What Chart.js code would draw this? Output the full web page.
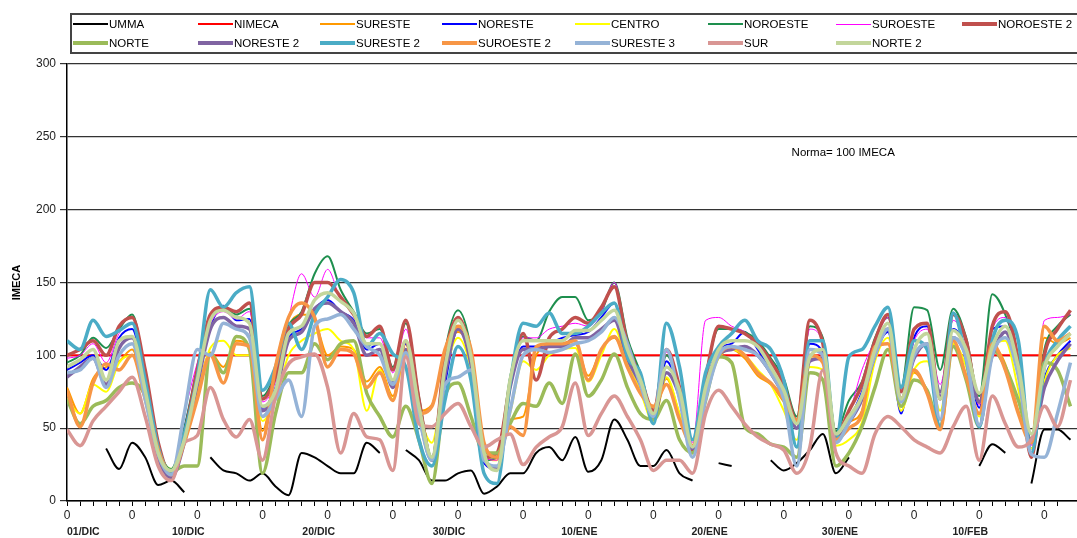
<!DOCTYPE html>
<html>
<head>
<meta charset="utf-8">
<script src="https://cdn.jsdelivr.net/npm/chart.js@4.4.0/dist/chart.umd.min.js"></script>
<style>
  body { margin: 0; background: #fff; overflow: hidden; font-family: "Liberation Sans", Arial, sans-serif; }
  #wrap { position: relative; width: 1077px; height: 538px; overflow: hidden; }
  #legend { position: absolute; left: 70px; top: 13px; width: 1030px; height: 41px; border: 2px solid #444; box-sizing: border-box; }
  .item { position: absolute; height: 14px; display: flex; align-items: center; font-size: 11.5px; color: #000; white-space: nowrap; }
  .item i { display: inline-block; width: 35px; margin-right: 1px; }
</style>
</head>
<body>
<div id="wrap">
  <canvas id="myChart" width="1077" height="538"></canvas>
  <div id="legend"></div>
</div>
<script>
// tick labels
const dateLabels = ["01/DIC", "10/DIC", "20/DIC", "30/DIC", "10/ENE", "20/ENE", "30/ENE", "10/FEB"];

// one value per day
const umma = [null,null,null,36,22,40,30,11,14,6,
  null,30,21,19,14,19,10,4,33,30,
  24,19,19,40,33,null,35,28,14,14,
  19,21,5,10,19,19,33,37,28,44,
  20,28,56,42,24,24,35,19,14,null,
  26,24,null,null,28,21,26,35,46,19,
  30,null,null,null,null,null,null,null,null,null,
  24,39,33,null,12,49,49,42];

const nimeca = [100,100,100,100,100,100,100,100,100,100,
  100,100,100,100,100,100,100,100,100,100,
  100,100,100,100,100,100,100,100,100,100,
  100,100,100,100,100,100,100,100,100,100,
  100,100,100,100,100,100,100,100,100,100,
  100,100,100,100,100,100,100,100,100,100,
  100,100,100,100,100,100,100,100,100,100,
  100,100,100,100,100,100,100,100];

const sureste = [78,60,84,92,96,104,72,34,20,42,
  74,102,92,110,106,48,90,120,128,124,
  100,106,104,82,92,72,108,62,66,102,
  116,100,36,30,56,58,100,106,106,108,
  86,104,112,94,76,64,84,60,38,78,
  102,104,98,86,80,68,56,98,96,44,
  54,62,104,108,70,88,76,52,108,86,
  60,106,94,62,40,112,108,112];

const noreste = [90,95,100,90,112,118,80,34,18,50,
  88,120,134,124,125,64,78,112,118,132,
  138,130,124,104,108,82,108,62,28,80,
  118,96,26,22,78,106,106,108,112,114,
  116,126,136,100,80,58,96,74,36,80,
  104,108,116,104,90,74,50,108,102,44,
  56,75,102,116,60,112,120,72,118,104,
  64,118,120,90,36,84,100,110];

const centro = [70,60,80,75,95,100,70,34,22,40,
  72,105,110,100,100,55,70,100,110,115,
  118,110,104,62,90,70,100,60,40,88,
  112,90,30,28,60,96,90,100,104,105,
  82,100,118,95,75,54,85,60,36,72,
  98,104,100,90,80,62,42,92,90,38,
  42,54,96,112,62,90,96,62,108,92,
  58,104,110,76,36,82,100,105];

const noroeste = [95,100,112,105,118,128,88,38,22,50,
  92,125,132,128,132,72,88,120,130,156,
  168,145,130,115,118,92,122,72,30,102,
  131,104,28,30,85,113,110,130,140,140,
  124,130,150,112,88,60,100,78,38,86,
  118,118,116,110,98,84,58,120,112,48,
  69,82,112,126,78,133,131,90,132,112,
  72,142,128,98,40,104,120,128];

const suroeste = [98,100,108,95,115,122,86,38,20,60,
  95,122,130,125,130,68,82,125,156,140,
  159,138,128,112,112,88,118,68,30,100,
  125,100,30,28,84,112,112,118,120,122,
  120,130,150,108,86,60,102,80,40,124,
  126,120,116,106,94,80,55,118,108,46,
  60,90,110,126,76,110,118,80,124,108,
  66,118,126,94,38,124,126,128];

const noroeste2 = [100,104,110,100,120,126,90,40,18,45,
  90,128,133,130,136,70,85,118,128,150,
  150,140,128,113,120,90,124,70,28,99,
  126,100,30,33,80,115,83,112,118,126,
  122,133,147,108,85,62,104,78,35,84,
  120,118,115,108,96,80,55,124,108,45,
  62,80,110,128,75,118,122,70,128,110,
  68,120,130,96,30,100,118,131];

const norte = [70,53,65,69,78,81,72,35,20,24,
  24,101,88,113,104,19,60,88,88,108,
  97,108,110,74,58,44,65,42,12,72,
  81,58,33,33,53,67,65,81,67,101,
  72,83,101,78,60,56,69,42,33,69,
  99,95,51,46,39,37,30,88,83,24,
  33,51,78,104,65,83,76,51,106,83,
  51,104,92,69,42,95,90,65];

const noreste2 = [85,92,98,80,105,112,74,30,16,40,
  80,118,126,120,118,62,74,110,116,132,
  136,130,122,100,104,78,104,60,28,86,
  118,94,30,22,78,104,104,106,106,112,
  112,118,124,98,80,58,88,72,36,76,
  100,104,106,100,88,72,50,96,98,44,
  54,70,100,118,70,98,108,75,112,100,
  68,100,116,88,40,78,96,108];

const sureste2 = [110,104,124,113,117,122,83,37,19,46,
  85,145,133,143,147,76,92,122,104,128,
  140,152,143,106,115,101,92,42,24,69,
  106,83,19,12,81,122,120,129,115,115,
  120,129,136,99,88,53,122,92,42,88,
  106,115,124,110,104,83,37,110,110,42,
  99,104,120,133,78,110,104,51,129,97,
  51,110,124,110,33,92,110,120];

const suroeste2 = [76,51,81,94,90,100,70,35,18,40,
  70,100,81,108,106,42,92,126,136,126,
  92,104,101,78,88,69,110,60,65,104,
  120,104,40,30,51,45,106,108,108,110,
  83,104,113,92,74,65,80,56,38,75,
  100,106,100,88,81,70,55,100,95,42,
  50,60,106,108,70,90,74,49,110,85,
  60,108,90,60,40,120,110,115];

const sureste3 = [88,90,98,78,100,108,70,32,18,60,
  104,100,122,118,112,58,70,83,58,120,
  125,128,118,106,100,80,102,58,28,80,
  85,90,28,24,62,100,104,102,104,108,
  110,116,126,108,80,58,104,70,30,70,
  100,106,104,100,88,70,24,104,100,40,
  54,72,100,118,68,100,108,56,112,98,
  52,100,112,86,32,30,60,95];

const sur = [49,38,55,65,75,85,58,24,14,40,
  45,78,56,44,56,28,72,94,99,101,
  78,33,60,44,42,21,99,53,51,60,
  67,51,37,42,46,25,37,44,51,81,
  45,60,72,58,42,21,28,28,19,60,
  76,65,53,44,39,35,19,37,90,33,
  24,19,46,58,51,42,37,33,51,65,
  28,72,53,37,42,65,51,83];

const norte2 = [92,97,104,83,110,113,76,33,21,42,
  83,124,131,126,122,65,76,115,120,138,
  143,137,129,108,108,83,110,65,30,92,
  124,99,33,21,83,110,110,110,110,117,
  117,124,131,104,83,60,92,76,37,78,
  104,110,110,106,92,76,53,99,104,46,
  58,72,104,122,70,104,115,70,117,104,
  74,106,120,92,46,92,106,115];

const series = [
  { label: "UMMA", values: umma, color: "#000000", width: 2 },
  { label: "NIMECA", values: nimeca, color: "#FF0000", width: 2 },
  { label: "SURESTE", values: sureste, color: "#FF9900", width: 2 },
  { label: "NORESTE", values: noreste, color: "#0000FF", width: 2 },
  { label: "CENTRO", values: centro, color: "#FFFF00", width: 2 },
  { label: "NOROESTE", values: noroeste, color: "#1E8F4E", width: 2 },
  { label: "SUROESTE", values: suroeste, color: "#FF00FF", width: 1 },
  { label: "NOROESTE 2", values: noroeste2, color: "#C0504D", width: 3.5 },
  { label: "NORTE", values: norte, color: "#9BBB59", width: 3.5 },
  { label: "NORESTE 2", values: noreste2, color: "#8064A2", width: 3.5 },
  { label: "SURESTE 2", values: sureste2, color: "#4BACC6", width: 3.5 },
  { label: "SUROESTE 2", values: suroeste2, color: "#F79646", width: 3.5 },
  { label: "SURESTE 3", values: sureste3, color: "#95B3D7", width: 3.5 },
  { label: "SUR", values: sur, color: "#D99694", width: 3.5 },
  { label: "NORTE 2", values: norte2, color: "#C3D69B", width: 3.5 },
];

const legendCols = [1, 126, 248, 370, 503, 636, 764, 890];

// html legend, two rows of boxes like the original
const legendEl = document.getElementById("legend");
series.forEach((s, i) => {
  const row = i < 8 ? 0 : 1;
  const item = document.createElement("div");
  item.className = "item";
  item.style.left = legendCols[i % 8] + "px";
  item.style.top = (row === 0 ? 2 : 21) + "px";
  const sw = document.createElement("i");
  sw.style.height = Math.max(1, Math.round(s.width)) + "px";
  sw.style.background = s.color;
  item.appendChild(sw);
  item.appendChild(document.createTextNode(s.label));
  legendEl.appendChild(item);
});

const extraText = {
  id: "extraText",
  afterDraw(chart) {
    const { ctx, scales } = chart;
    const x = scales.x, y = scales.y;
    ctx.save();
    // norm note
    ctx.fillStyle = "#000";
    ctx.font = "11.5px 'Liberation Sans', Arial, sans-serif";
    ctx.textAlign = "left";
    ctx.textBaseline = "middle";
    ctx.fillText("Norma= 100 IMECA", x.getPixelForValue(55.6), y.getPixelForValue(239));
    // date row under the axis
    ctx.font = "bold 10.5px 'Liberation Sans', Arial, sans-serif";
    ctx.fillStyle = "#222";
    ctx.textBaseline = "middle";
    dateLabels.forEach((d, i) => {
      const px = x.getPixelForValue(i * 10);
      if (i === 0) {
        ctx.textAlign = "left";
        ctx.fillText(d, px, 532);
      } else {
        ctx.textAlign = "center";
        ctx.fillText(d, px - 9, 532);
      }
    });
    ctx.restore();
  },
};

let myChart = document.getElementById("myChart").getContext("2d");

let lineChart = new Chart(myChart, {
  type: "line",
  data: {
    datasets: series.map((s, i) => ({
      label: s.label,
      data: s.values.map((v, d) => ({ x: d, y: v })),
      borderColor: s.color,
      backgroundColor: s.color,
      borderWidth: s.width,
      pointRadius: 0,
      cubicInterpolationMode: "monotone",
      spanGaps: false,
      order: series.length - i,
    })),
  },
  options: {
    responsive: false,
    animation: false,
    layout: { padding: { top: 64, left: 0, right: 0, bottom: 0 } },
    plugins: { legend: { display: false }, tooltip: { enabled: false } },
    scales: {
      x: {
        type: "linear",
        min: 0,
        max: 77.5,
        afterBuildTicks: (s) => {
          s.ticks = s.ticks.filter((t) => Number.isInteger(t.value));
        },
        afterFit: (s) => {
          s.height = 37;
        },
        ticks: {
          stepSize: 1,
          autoSkip: false,
          maxRotation: 0,
          padding: 2,
          color: "#222",
          font: { size: 12, family: "'Liberation Sans', Arial, sans-serif" },
          callback: (v) => (v % 5 === 0 ? "0" : ""),
        },
        grid: { drawOnChartArea: false, drawTicks: true, tickLength: 5, color: "#000" },
        border: { color: "#000", width: 1.5 },
      },
      y: {
        min: 0,
        max: 300,
        afterFit: (s) => {
          s.width = 67;
        },
        ticks: {
          stepSize: 50,
          padding: 4,
          color: "#222",
          font: { size: 12, family: "'Liberation Sans', Arial, sans-serif" },
        },
        grid: { color: "#333", lineWidth: 1.2, tickLength: 7 },
        border: { color: "#000", width: 1.5 },
        title: {
          display: true,
          text: "IMECA",
          color: "#000",
          font: { size: 11, weight: "bold", family: "'Liberation Sans', Arial, sans-serif" },
          padding: { top: 10, bottom: 0 },
        },
      },
    },
  },
  plugins: [extraText],
});
</script>
</body>
</html>
